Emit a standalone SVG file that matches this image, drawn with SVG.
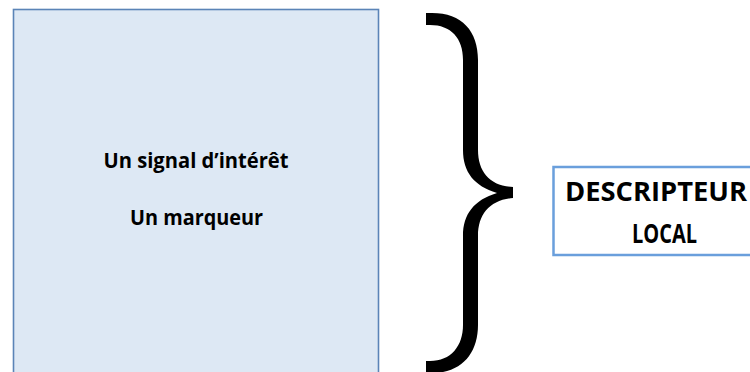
<svg xmlns="http://www.w3.org/2000/svg" width="750" height="372" viewBox="0 0 750 372">
<style>
.t{font-family:"Open Sans","Liberation Sans",sans-serif;font-weight:bold;fill:#000;text-anchor:middle}
.s{font-size:20.5px}
.b{font-size:27px}
</style>
<rect width="750" height="372" fill="#fff"/>
<g id="signal-box">
<rect x="13.5" y="9.5" width="365" height="370" fill="#dde8f4" stroke="#5b84b7" stroke-width="1.6"/>
<text class="t s" x="196" y="168" textLength="185" lengthAdjust="spacingAndGlyphs">Un signal d’intérêt</text>
<text class="t s" x="196.5" y="225" textLength="133" lengthAdjust="spacingAndGlyphs">Un marqueur</text>
</g>
<g id="connectors">
<path d="M426,13 L432,13 C462,13 478,31 478,60 L478,150 C478,172 490,186 513,187 L513,198 C490,200 478,214 478,236 L478,325 C478,353 462,373 432,373 L426,373 L426,361 L430,361 C451,361 463,346 463,325 L463,236 C463,214 474,200 497,193 C474,186 463,172 463,150 L463,60 C463,38 451,25 430,25 L426,25 Z" fill="#000"/>
</g>
<g id="descripteur-box">
<rect x="553.5" y="167" width="210" height="88" fill="#fff" stroke="#6a9fdc" stroke-width="2.5"/>
<text class="t b" x="656" y="200.5" textLength="182" lengthAdjust="spacingAndGlyphs">DESCRIPTEUR</text>
<text class="t b" x="664.5" y="242.5" textLength="65" lengthAdjust="spacingAndGlyphs">LOCAL</text>
</g>
</svg>
